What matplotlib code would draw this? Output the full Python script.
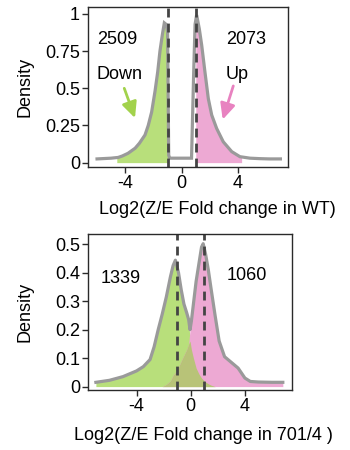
import numpy as np
import matplotlib
matplotlib.use("Agg")
import matplotlib.pyplot as plt

plt.rcParams['font.family'] = ['Liberation Sans', 'DejaVu Sans']

# ---------------- data ----------------
# top panel (WT): outline of density, fills for |log2FC| >= 1
top_x = [-6.0, -5.0, -4.5, -4.2, -3.8, -3.3, -3.0, -2.6, -2.37, -2.13, -1.89, -1.7,
         -1.54, -1.37, -1.23, -1.1, -1.0, -0.92, -0.85, 0.7, 0.75, 0.85, 0.95, 1.06,
         1.25, 1.42, 1.65, 1.89, 2.13, 2.48, 2.95, 3.55, 4.13, 4.84, 5.5, 6.2, 7.0]
top_y = [0.025, 0.03, 0.035, 0.045, 0.063, 0.097, 0.13, 0.186, 0.25, 0.34, 0.48, 0.61,
         0.75, 0.86, 0.94, 0.93, 0.88, 0.05, 0.03, 0.03, 0.22, 0.6, 0.93, 0.993,
         0.90, 0.79, 0.61, 0.43, 0.32, 0.23, 0.14, 0.074, 0.04, 0.03, 0.027, 0.025, 0.025]
top_down_range = [-4.6, -1.0]
top_up_range = [1.0, 4.25]
top_counts = ["2509", "2073"]

# bottom panel (701/4): separate densities of down and up genes
bot_x = [-7.0, -6.0, -5.0, -4.0, -3.5, -3.0, -2.7, -2.4, -2.1, -1.8, -1.5, -1.3, -1.13,
         -0.9, -0.7, -0.5, -0.3, -0.15, -0.05, 0.05, 0.2, 0.4, 0.6, 0.8, 0.92, 1.1,
         1.3, 1.5, 1.8, 2.1, 2.5, 3.0, 3.5, 4.0, 4.4, 5.0, 6.0, 6.8]
bot_down = [0.015, 0.022, 0.035, 0.055, 0.07, 0.095, 0.14, 0.2, 0.255, 0.315, 0.385, 0.425, 0.444,
            0.40, 0.34, 0.29, 0.26, 0.235, 0.16, 0.13, 0.10, 0.065, 0.045, 0.03, 0.024, 0.016,
            0.01, 0.005, 0.0, 0.0, 0.0, 0.0, 0.0, 0.0, 0.0, 0.0, 0.0, 0.0]
bot_up = [0.0, 0.0, 0.0, 0.0, 0.0, 0.0, 0.0, 0.0, 0.0, 0.008, 0.02, 0.04, 0.05,
          0.068, 0.09, 0.11, 0.13, 0.15, 0.2, 0.23, 0.29, 0.37, 0.43, 0.49, 0.502, 0.465,
          0.41, 0.345, 0.25, 0.16, 0.105, 0.085, 0.065, 0.03, 0.018, 0.016, 0.015, 0.015]
bot_counts = ["1339", "1060"]

cutoffs = [-1.0, 1.0]
green = '#b8df7b'
pink = '#eda9d3'
olive = '#b8c378'
outline = '#9a9a9a'
dash_col = '#444444'
arrow_green = '#a2d24c'
arrow_pink = '#e882c0'

W, H = 350, 450
fig = plt.figure(figsize=(3.5, 4.5), dpi=100)

def box(l, t, r, b):
    return [l / W, 1 - b / H, (r - l) / W, (b - t) / H]

ax1 = fig.add_axes(box(88.3, 6.7, 288.3, 166.5))
ax2 = fig.add_axes(box(88.3, 234.3, 292.3, 390.0))

FS = 13

def style(ax):
    for s in ax.spines.values():
        s.set_color('#2a2a2a')
        s.set_linewidth(1.0)
    ax.tick_params(axis='both', labelsize=FS, length=4, width=1.0, color='#2a2a2a', pad=2)

# ---- top ----
tx = np.array(top_x); ty = np.array(top_y)
md = (tx >= top_down_range[0]) & (tx <= top_down_range[1])
mu = (tx >= top_up_range[0]) & (tx <= top_up_range[1])
xd = np.concatenate([[top_down_range[0]], tx[md], [top_down_range[1]]])
yd = np.interp(xd, tx, ty)
xu = np.concatenate([[top_up_range[0]], tx[mu], [top_up_range[1]]])
yu = np.interp(xu, tx, ty)
ax1.fill_between(xd, 0, yd, color=green, lw=0)
ax1.fill_between(xu, 0, yu, color=pink, lw=0)
ax1.plot(tx, ty, color=outline, lw=2.3, solid_joinstyle='miter')
for c in cutoffs:
    ax1.axvline(c, color=dash_col, lw=2.0, dashes=(3.2, 2.2))
ax1.set_xlim(-6.62, 7.56)
ax1.set_ylim(-0.026, 1.049)
ax1.set_yticks([0, 0.25, 0.5, 0.75, 1])
ax1.set_yticklabels(['0', '0.25', '0.5', '0.75', '1'])
ax1.set_xticks([-4, 0, 4])
ax1.set_xticklabels(['-4', '0', '4'])
style(ax1)
ax1.text(-4.6, 0.825, top_counts[0], fontsize=FS, ha='center', va='center')
ax1.text(4.6, 0.825, top_counts[1], fontsize=FS, ha='center', va='center')
ax1.text(-4.38, 0.59, 'Down', fontsize=FS, ha='center', va='center')
ax1.text(3.96, 0.59, 'Up', fontsize=FS, ha='center', va='center')
ax1.annotate('', xy=(-3.31, 0.30), xytext=(-4.07, 0.5),
             arrowprops=dict(arrowstyle='-|>,head_length=0.95,head_width=0.45',
                             color=arrow_green, lw=2, shrinkA=0, shrinkB=0))
ax1.annotate('', xy=(2.91, 0.29), xytext=(3.66, 0.516),
             arrowprops=dict(arrowstyle='-|>,head_length=0.95,head_width=0.45',
                             color=arrow_pink, lw=2, shrinkA=0, shrinkB=0))

# ---- bottom ----
bx = np.array(bot_x); bd = np.array(bot_down); bu = np.array(bot_up)
ax2.fill_between(bx, 0, bd, color=green, lw=0)
ax2.fill_between(bx, 0, bu, color=pink, lw=0)
ax2.fill_between(bx, 0, np.minimum(bd, bu), color=olive, lw=0)
ax2.plot(bx, np.maximum(bd, bu), color=outline, lw=2.3)
for c in cutoffs:
    ax2.axvline(c, color=dash_col, lw=2.0, dashes=(3.2, 2.2))
ax2.set_xlim(-7.56, 7.5)
ax2.set_ylim(-0.012, 0.535)
ax2.set_yticks([0, 0.1, 0.2, 0.3, 0.4, 0.5])
ax2.set_yticklabels(['0', '0.1', '0.2', '0.3', '0.4', '0.5'])
ax2.set_xticks([-4, 0, 4])
ax2.set_xticklabels(['-4', '0', '4'])
style(ax2)
ax2.text(-5.16, 0.381, bot_counts[0], fontsize=FS, ha='center', va='center')
ax2.text(4.13, 0.392, bot_counts[1], fontsize=FS, ha='center', va='center')

# labels
fig.text(25 / W, 1 - 87 / H, 'Density', rotation=90, fontsize=FS, ha='center', va='center')
fig.text(25 / W, 1 - 312 / H, 'Density', rotation=90, fontsize=FS, ha='center', va='center')
fig.text(217.5 / W, 1 - 210 / H, 'Log2(Z/E Fold change in WT)', fontsize=FS, ha='center', va='center')
fig.text(203.5 / W, 1 - 435 / H, 'Log2(Z/E Fold change in 701/4 )', fontsize=FS, ha='center', va='center')

fig.savefig('out.png', dpi=100)
